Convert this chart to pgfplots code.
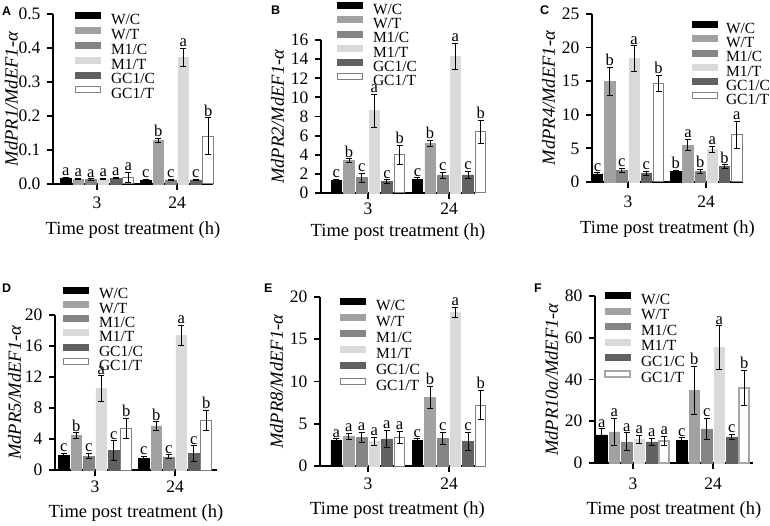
\documentclass[border=0pt]{standalone}
\usepackage{pgfplots}
\pgfplotsset{compat=1.18}
\usepackage{pgfplotstable}
\usepackage{fontspec}
\setmainfont{Liberation Serif}
\newfontfamily\panelfont{Liberation Sans}

\definecolor{cWC}{gray}{0.0}
\definecolor{cWT}{gray}{0.63}
\definecolor{cMC}{gray}{0.52}
\definecolor{cMT}{gray}{0.85}
\definecolor{cGC}{gray}{0.38}
\definecolor{cGT}{gray}{0.5}

% columns: y, error, letter for W/C, W/T, M1/C, M1/T, GC1/C, GC1/T
\pgfplotstableread{
x y1 e1 l1 y2 e2 l2 y3 e3 l3 y4 e4 l4 y5 e5 l5 y6 e6 l6
0 0.018 0.002 a 0.014 0.002 a 0.013 0.002 a 0.014 0.002 a 0.017 0.002 a 0.020 0.015 a
1 0.012 0.002 c 0.128 0.007 b 0.012 0.002 c 0.372 0.027 a 0.012 0.002 c 0.141 0.054 b
}\dataA
\pgfplotstableread{
x y1 e1 l1 y2 e2 l2 y3 e3 l3 y4 e4 l4 y5 e5 l5 y6 e6 l6
0 1.3 0.15 c 3.4 0.2 b 1.6 0.45 c 8.6 1.75 a 1.2 0.2 c 4.0 1.0 b
1 1.4 0.2 c 5.2 0.3 b 1.85 0.3 c 14.3 1.35 a 1.9 0.35 c 6.4 1.2 b
}\dataB
\pgfplotstableread{
x y1 e1 l1 y2 e2 l2 y3 e3 l3 y4 e4 l4 y5 e5 l5 y6 e6 l6
0 1.2 0.2 c 15.0 2.1 b 1.7 0.3 c 18.4 1.9 a 1.3 0.3 c 14.7 1.2 b
1 1.6 0.15 b 5.5 0.85 a 1.6 0.3 b 4.9 0.45 a 2.3 0.25 b 7.0 2.0 a
}\dataC
\pgfplotstableread{
x y1 e1 l1 y2 e2 l2 y3 e3 l3 y4 e4 l4 y5 e5 l5 y6 e6 l6
0 1.9 0.25 c 4.45 0.35 b 1.8 0.35 c 10.5 1.65 a 2.5 1.25 c 5.4 1.3 b
1 1.5 0.3 c 5.7 0.55 b 1.7 0.25 c 17.4 1.3 a 2.1 1.0 c 6.4 1.3 b
}\dataD
\pgfplotstableread{
x y1 e1 l1 y2 e2 l2 y3 e3 l3 y4 e4 l4 y5 e5 l5 y6 e6 l6
0 3.0 0.2 a 3.5 0.4 a 3.4 0.6 a 2.9 0.5 a 3.2 1.0 a 3.4 0.7 a
1 3.0 0.2 c 8.1 1.35 b 3.3 0.7 c 18.2 0.6 a 2.9 1.1 c 7.2 1.75 b
}\dataE
\pgfplotstableread{
x y1 e1 l1 y2 e2 l2 y3 e3 l3 y4 e4 l4 y5 e5 l5 y6 e6 l6
0 13.5 3.0 a 14.9 6.4 a 10.1 4.3 a 11.2 2.0 a 10.1 1.7 a 10.6 2.2 a
1 10.8 1.3 c 34.8 11.5 b 16.3 5.2 c 55.3 10.5 a 12.5 1.2 c 35.9 8.5 b
}\dataF

\pgfplotsset{
  panel/.style={
    scale only axis, anchor=south west, clip=false,
    axis x line*=bottom, axis y line*=left,
    axis line style={line width=1.8pt, black},
    tick style={line width=1.8pt, black},
    tick align=outside, major tick length=6pt,
    xtick={0,1}, xticklabels={3,24},
    ymin=0,
    ticklabel style={font=\fontsize{17.5}{19}\selectfont},
    yticklabel style={xshift=-3pt},
    /pgf/number format/assume math mode=true,
    xlabel={Time post treatment (h)},
    label style={font=\fontsize{18.5}{20}\selectfont},
    legend style={draw=none, fill=none, inner sep=0pt, outer sep=0pt,
      at={(0,1)}, anchor=north west,
      font=\fontsize{15.5}{16}\selectfont, column sep=10pt, row sep=0pt,
      nodes={inner sep=0pt, text height=10pt, text depth=2pt}},
    legend cell align=left,
    legend image code/.code={\draw[##1] (0pt,2pt) rectangle (25pt,8pt);},
  },
  gaps/.style 2 args={xticklabel style={yshift=#1}, xlabel style={yshift=#2}},
  bar/.style={ybar, bar width=10.5pt, bar shift=0pt, line width=0.6pt,
    error bars/y dir=both, error bars/y explicit,
    error bars/error bar style={black, line width=1pt},
    error bars/error mark options={black, rotate=90, mark size=3pt, line width=1pt}},
  lab/.style={forget plot, draw=none, mark=none, nodes near coords,
    point meta=explicit symbolic,
    every node near coord/.append style={font=\fontsize{16.5}{17}\selectfont,
      anchor=south, inner sep=1.2pt}},
}

% bar offsets in axis units (pitch 12.5pt on a unit of about 80pt)
\newcommand{\bars}[2][]{%
  \addplot[bar, fill=cWC, draw=cWC] table[x expr=\thisrow{x}-0.39, y=y1, y error=e1]{#2};
  \addplot[bar, fill=cWT, draw=cWT] table[x expr=\thisrow{x}-0.234, y=y2, y error=e2]{#2};
  \addplot[bar, fill=cMC, draw=cMC] table[x expr=\thisrow{x}-0.078, y=y3, y error=e3]{#2};
  \addplot[bar, fill=cMT, draw=cMT] table[x expr=\thisrow{x}+0.078, y=y4, y error=e4]{#2};
  \addplot[bar, fill=cGC, draw=cGC] table[x expr=\thisrow{x}+0.234, y=y5, y error=e5]{#2};
  \addplot[bar, fill=white, draw=cGT, line width=1pt, #1] table[x expr=\thisrow{x}+0.39, y=y6, y error=e6]{#2};
  \addplot[lab] table[x expr=\thisrow{x}-0.39, y expr=\thisrow{y1}+\thisrow{e1}, meta=l1]{#2};
  \addplot[lab] table[x expr=\thisrow{x}-0.234, y expr=\thisrow{y2}+\thisrow{e2}, meta=l2]{#2};
  \addplot[lab] table[x expr=\thisrow{x}-0.078, y expr=\thisrow{y3}+\thisrow{e3}, meta=l3]{#2};
  \addplot[lab] table[x expr=\thisrow{x}+0.078, y expr=\thisrow{y4}+\thisrow{e4}, meta=l4]{#2};
  \addplot[lab] table[x expr=\thisrow{x}+0.234, y expr=\thisrow{y5}+\thisrow{e5}, meta=l5]{#2};
  \addplot[lab] table[x expr=\thisrow{x}+0.39, y expr=\thisrow{y6}+\thisrow{e6}, meta=l6]{#2};
  \legend{W/C, W/T, M1/C, M1/T, GC1/C, GC1/T}
}

\begin{document}
\begin{tikzpicture}
\path[use as bounding box] (0pt,0pt) rectangle (770pt,-526pt);

\begin{axis}[panel, at={(53pt,-184pt)}, width=160pt, height=170pt,
  xmin=-0.55, xmax=1.45, ymax=0.5, ytick={0,0.1,0.2,0.3,0.4,0.5},
  yticklabel style={/pgf/number format/.cd, fixed, fixed zerofill, precision=1},
  ylabel={\textit{MdPR1/MdEF1-α}}, ylabel shift=-6pt, gaps={-3pt}{-7pt},
  legend style={xshift=22pt, yshift=1.5pt, row sep=0.5pt}]
\bars{\dataA}
\end{axis}

\begin{axis}[panel, at={(321pt,-193pt)}, width=154pt, height=153pt,
  xmin=-0.58, xmax=1.32, ymax=16, ytick={0,2,4,6,8,10,12,14,16},
  ylabel={\textit{MdPR2/MdEF1-α}}, gaps={0pt}{-3pt},
  legend style={xshift=16pt, yshift=38pt, row sep=0pt}]
\bars{\dataB}
\end{axis}

\begin{axis}[panel, at={(592pt,-182pt)}, width=151pt, height=168pt,
  xmin=-0.46, xmax=1.47, ymax=25, ytick={0,5,10,15,20,25},
  ylabel={\textit{MdPR4/MdEF1-α}}, gaps={-4pt}{-7pt},
  legend style={xshift=100pt, yshift=-7pt, row sep=0pt, column sep=8pt}]
\bars{\dataC}
\end{axis}

\begin{axis}[panel, at={(55pt,-470pt)}, width=162pt, height=155pt,
  xmin=-0.5, xmax=1.525, ymax=20, ytick={0,4,8,12,16,20},
  ylabel={\textit{MdPR5/MdEF1-α}}, ylabel shift=-3pt, gaps={-1pt}{-6pt},
  legend style={xshift=8pt, yshift=28.5pt, row sep=0pt}]
\bars{\dataD}
\end{axis}

\begin{axis}[panel, at={(320pt,-466pt)}, width=155pt, height=169pt,
  xmin=-0.59, xmax=1.32, ymax=20, ytick={0,5,10,15,20},
  ylabel={\textit{MdPR8/MdEF1-α}}, gaps={-2pt}{-6pt},
  legend style={xshift=20pt, yshift=-1pt, row sep=1.7pt}]
\bars{\dataE}
\end{axis}

\begin{axis}[panel, at={(595pt,-463pt)}, width=158pt, height=167pt,
  xmin=-0.475, xmax=1.5, ymax=80, ytick={0,20,40,60,80},
  ylabel={\textit{MdPR10a/MdEF1-α}}, gaps={-5pt}{-6pt},
  legend style={xshift=9pt, yshift=4pt, row sep=1.2pt}]
\bars[draw=gray!70, line width=2pt]{\dataF}
\end{axis}

\begin{scope}[font=\panelfont\bfseries\fontsize{12.5}{13}\selectfont]
\node[anchor=base west, inner sep=0pt] at (2pt,-16pt) {A};
\node[anchor=base west, inner sep=0pt] at (271pt,-15pt) {B};
\node[anchor=base west, inner sep=0pt] at (540pt,-15pt) {C};
\node[anchor=base west, inner sep=0pt] at (2pt,-292pt) {D};
\node[anchor=base west, inner sep=0pt] at (264pt,-292pt) {E};
\node[anchor=base west, inner sep=0pt] at (534pt,-292pt) {F};
\end{scope}
\end{tikzpicture}
\end{document}
